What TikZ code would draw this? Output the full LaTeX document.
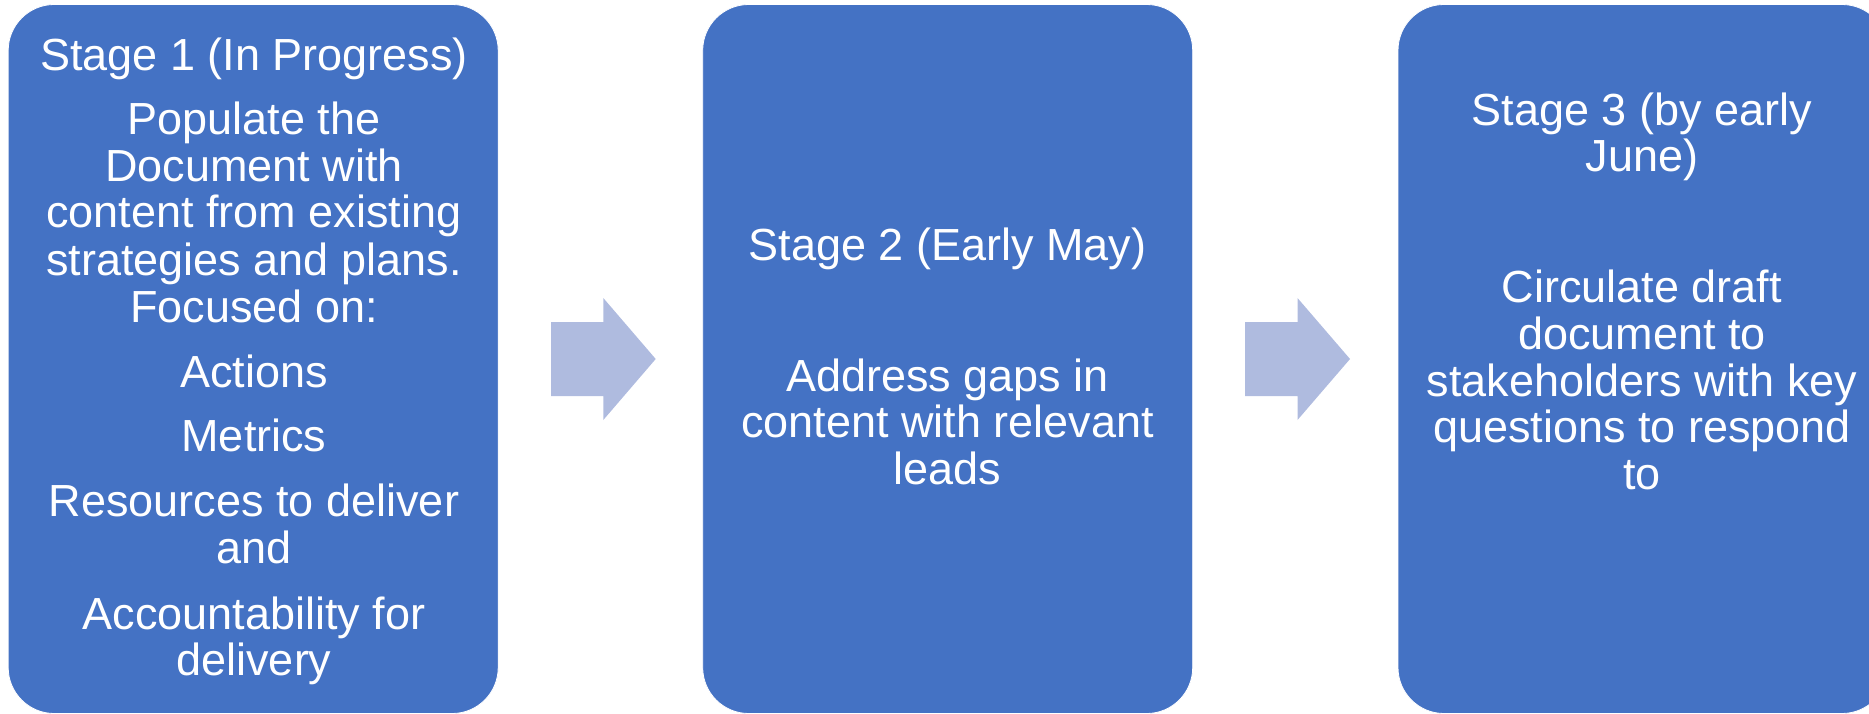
\documentclass[tikz,border=0pt]{standalone}
\usepackage{fontspec}
\setmainfont{Liberation Sans}
\definecolor{boxblue}{RGB}{68,114,196}
\definecolor{arrowblue}{RGB}{175,187,223}
\begin{document}
\begin{tikzpicture}[x=1pt,y=-1pt,
  stagebox/.style={fill=boxblue,draw=white,line width=0.8pt,rounded corners=46pt,inner sep=0pt,minimum width=490pt,minimum height=709pt},
  txt/.style={anchor=base,text=white,inner sep=0pt,font=\fontsize{45}{47}\selectfont},
  blockarrow/.style={fill=arrowblue,draw=none}]
\useasboundingbox (0,0) rectangle (1869,714);
\clip (0,0) rectangle (1869,714);
\node[stagebox] (s1) at (253.2,359) {};
\node[stagebox] (s2) at (947.7,359) {};
\node[stagebox] (s3) at (1643,359) {};
\foreach \y/\t [count=\i] in {70.6/Stage 1 (In Progress),134.3/Populate the,181.5/Document with,228/content from existing,275/strategies and plans.,322/Focused on:,387/Actions,451.7/Metrics,516.8/Resources to deliver,563.7/and,629.8/Accountability for,675/delivery}
  \node[txt] (a\i) at (254,\y) {\t};
\foreach \y/\t [count=\i] in {260.7/Stage 2 (Early May),391.7/Address gaps in,437.8/content with relevant,484/leads}
  \node[txt] (b\i) at (947.7,\y) {\t};
\foreach \y/\t [count=\i] in {125.2/Stage 3 (by early,171.7/June),302/Circulate draft,349/document to,396/stakeholders with key,442.6/questions to respond,489.5/to}
  \node[txt] (c\i) at (1642,\y) {\t};
\fill[blockarrow] (551,322) -- (603.3,322) -- (603.3,298) -- (655.7,359) -- (603.3,420) -- (603.3,396) -- (551,396) -- cycle;
\fill[blockarrow] (1245,322) -- (1297.5,322) -- (1297.5,298) -- (1350,359) -- (1297.5,420) -- (1297.5,396) -- (1245,396) -- cycle;
\end{tikzpicture}
\end{document}
